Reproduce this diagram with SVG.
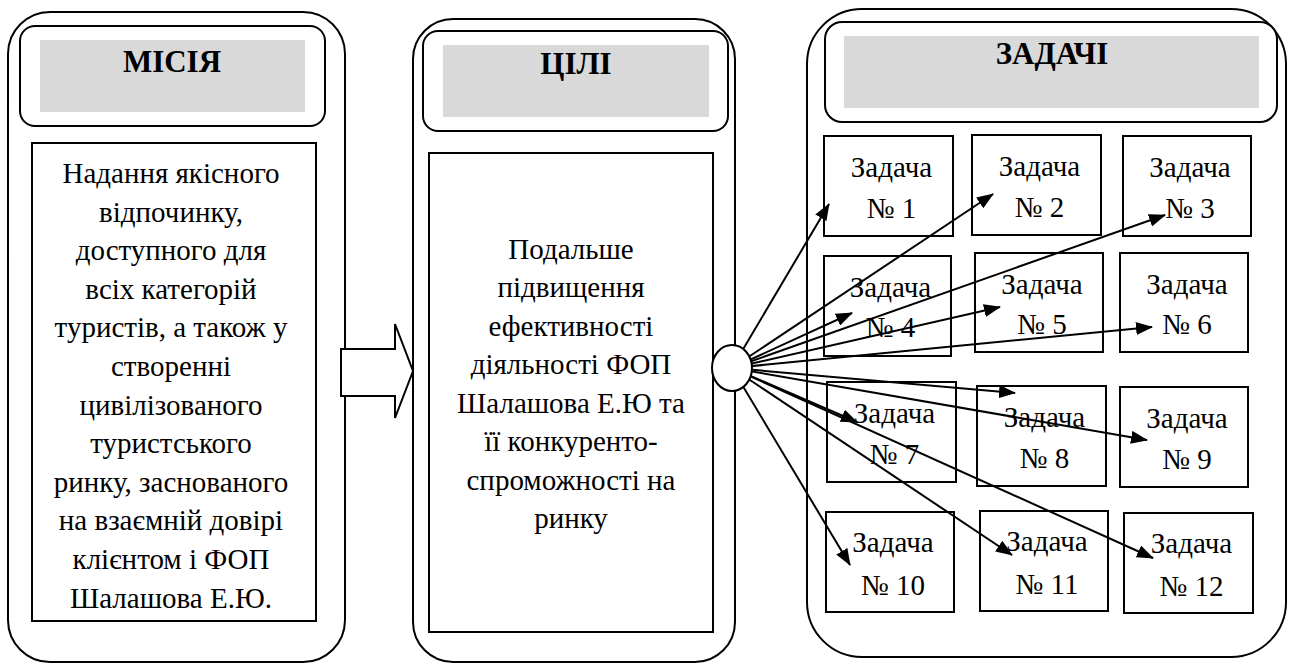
<svg xmlns="http://www.w3.org/2000/svg" width="1292" height="664" viewBox="0 0 1292 664">
<style>
.outer{fill:#fff;stroke:#000;stroke-width:2}
.hdr{fill:#fff;stroke:#000;stroke-width:2}
.gray{fill:#d9d9d9;stroke:none}
.box{fill:#fff;stroke:#000;stroke-width:2}
.title{font-family:'Liberation Serif','Times New Roman',serif;font-weight:bold;font-size:31px;text-anchor:middle;fill:#000}
.txt{font-family:'Liberation Serif','Times New Roman',serif;font-size:29px;text-anchor:middle;fill:#000}
.conn line{stroke:#000;stroke-width:2}
</style>
<defs>
<marker id="ah" markerUnits="userSpaceOnUse" markerWidth="17" markerHeight="13" refX="16" refY="6.5" orient="auto" viewBox="0 0 17 13">
<path d="M0,0 L17,6.5 L0,13 z" fill="#000"/>
</marker>
</defs>
<rect width="1292" height="664" fill="#fff"/>

<g id="mission">
<rect class="outer" x="8" y="12" width="337" height="650" rx="42" ry="42"/>
<rect class="hdr" x="20" y="26" width="305" height="100" rx="15" ry="15"/>
<rect class="gray" x="40" y="40" width="265" height="72"/>
<text class="title" x="172" y="72">МІСІЯ</text>
<rect class="box" x="32" y="143" width="284" height="478"/>
<text class="txt" x="171" y="183">Надання якісного</text>
<text class="txt" x="171" y="221.6">відпочинку,</text>
<text class="txt" x="171" y="260.2">доступного для</text>
<text class="txt" x="171" y="298.8">всіх категорій</text>
<text class="txt" x="171" y="337.4">туристів, а також у</text>
<text class="txt" x="171" y="376">створенні</text>
<text class="txt" x="171" y="414.6">цивілізованого</text>
<text class="txt" x="171" y="453.2">туристського</text>
<text class="txt" x="171" y="491.8">ринку, заснованого</text>
<text class="txt" x="171" y="530.4">на взаємній довірі</text>
<text class="txt" x="171" y="569">клієнтом і ФОП</text>
<text class="txt" x="171" y="607.6">Шалашова Е.Ю.</text>
</g>

<g id="block-arrow">
<polygon points="341,349 395,349 395,324 413,371 395,418 395,396 341,396" fill="#fff" stroke="#000" stroke-width="2"/>
</g>

<g id="goals">
<rect class="outer" x="413" y="19" width="322" height="643" rx="40" ry="40"/>
<rect class="hdr" x="423" y="31" width="305" height="100" rx="15" ry="15"/>
<rect class="gray" x="443" y="45" width="266" height="72"/>
<text class="title" x="576" y="74">ЦІЛІ</text>
<rect class="box" x="429" y="153" width="284" height="479"/>
<text class="txt" x="571" y="258.5">Подальше</text>
<text class="txt" x="571" y="297">підвищення</text>
<text class="txt" x="571" y="335.5">ефективності</text>
<text class="txt" x="571" y="374">діяльності ФОП</text>
<text class="txt" x="571" y="412.5">Шалашова Е.Ю та</text>
<text class="txt" x="571" y="451">її конкуренто-</text>
<text class="txt" x="571" y="489.5">спроможності на</text>
<text class="txt" x="571" y="528">ринку</text>
</g>

<g id="tasks">
<rect class="outer" x="807" y="9" width="479" height="648" rx="55" ry="55"/>
<rect class="hdr" x="825" y="22" width="452" height="100" rx="17" ry="17"/>
<rect class="gray" x="844" y="36" width="415" height="72"/>
<text class="title" x="1052" y="64">ЗАДАЧІ</text>
</g>

<g id="task1"><rect class="box" x="824" y="136" width="129" height="100"/><text class="txt" x="891.5" y="177">Задача</text><text class="txt" x="891.5" y="218">№ 1</text></g>
<g id="task2"><rect class="box" x="972" y="135" width="129" height="100"/><text class="txt" x="1039.5" y="176">Задача</text><text class="txt" x="1039.5" y="217">№ 2</text></g>
<g id="task3"><rect class="box" x="1123" y="136" width="128" height="100"/><text class="txt" x="1190" y="177">Задача</text><text class="txt" x="1190" y="218">№ 3</text></g>
<g id="task4"><rect class="box" x="824" y="256" width="127" height="100"/><text class="txt" x="890.5" y="297">Задача</text><text class="txt" x="890.5" y="337">№ 4</text></g>
<g id="task5"><rect class="box" x="975" y="253" width="128" height="99"/><text class="txt" x="1042" y="294">Задача</text><text class="txt" x="1042" y="334">№ 5</text></g>
<g id="task6"><rect class="box" x="1120" y="253" width="128" height="99"/><text class="txt" x="1187" y="294">Задача</text><text class="txt" x="1187" y="334">№ 6</text></g>
<g id="task7"><rect class="box" x="827" y="382" width="129" height="100"/><text class="txt" x="894.5" y="423">Задача</text><text class="txt" x="894.5" y="464">№ 7</text></g>
<g id="task8"><rect class="box" x="977" y="386" width="129" height="100"/><text class="txt" x="1044.5" y="427">Задача</text><text class="txt" x="1044.5" y="468">№ 8</text></g>
<g id="task9"><rect class="box" x="1120" y="387" width="128" height="100"/><text class="txt" x="1187" y="428">Задача</text><text class="txt" x="1187" y="469">№ 9</text></g>
<g id="task10"><rect class="box" x="826" y="512" width="128" height="100"/><text class="txt" x="893" y="552">Задача</text><text class="txt" x="893" y="595">№ 10</text></g>
<g id="task11"><rect class="box" x="980" y="511" width="128" height="100"/><text class="txt" x="1047" y="551">Задача</text><text class="txt" x="1047" y="594">№ 11</text></g>
<g id="task12"><rect class="box" x="1124" y="513" width="129" height="100"/><text class="txt" x="1191.5" y="553">Задача</text><text class="txt" x="1191.5" y="596">№ 12</text></g>

<g id="connectors" class="conn">
<line x1="732" y1="368" x2="829" y2="204" marker-end="url(#ah)"/>
<line x1="732" y1="368" x2="993" y2="194" marker-end="url(#ah)"/>
<line x1="732" y1="368" x2="1165" y2="215" marker-end="url(#ah)"/>
<line x1="732" y1="368" x2="852" y2="313" marker-end="url(#ah)"/>
<line x1="732" y1="368" x2="1000" y2="307" marker-end="url(#ah)"/>
<line x1="732" y1="368" x2="1152" y2="327" marker-end="url(#ah)"/>
<line x1="732" y1="368" x2="1015" y2="393" marker-end="url(#ah)"/>
<line x1="732" y1="368" x2="857" y2="422" marker-end="url(#ah)"/>
<line x1="732" y1="368" x2="1147" y2="440" marker-end="url(#ah)"/>
<line x1="732" y1="368" x2="850" y2="565" marker-end="url(#ah)"/>
<line x1="732" y1="368" x2="1012" y2="555" marker-end="url(#ah)"/>
<line x1="732" y1="368" x2="1153" y2="558" marker-end="url(#ah)"/>
</g>

<g id="hub">
<ellipse cx="732" cy="368" rx="20" ry="23" fill="#fff" stroke="#000" stroke-width="2"/>
</g>
</svg>
